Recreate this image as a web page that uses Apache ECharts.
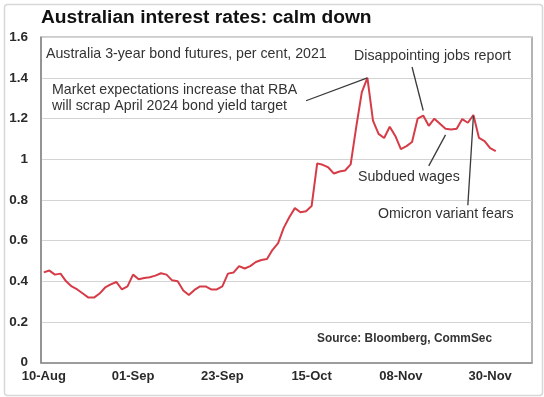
<!DOCTYPE html>
<html>
<head>
<meta charset="utf-8">
<script src="https://cdn.jsdelivr.net/npm/echarts@6/dist/echarts.min.js"></script>
<style>
  html, body { margin: 0; padding: 0; background: #fff; }
  #chart { width: 544px; height: 397px; }
</style>
</head>
<body>
<div id="chart"></div>
<script>
// business days, 10-Aug to 09-Dec 2021
const aug = ['10','11','12','13','16','17','18','19','20','23','24','25','26','27','30','31'];
const sep = ['01','02','03','06','07','08','09','10','13','14','15','16','17','20','21','22','23','24','27','28','29','30'];
const oct = ['01','04','05','06','07','08','11','12','13','14','15','18','19','20','21','22','25','26','27','28','29'];
const nov = ['01','02','03','04','05','08','09','10','11','12','15','16','17','18','19','22','23','24','25','26','29','30'];
const dec = ['01','02','03','06','07','08','09'];

const days = [].concat(
    aug.map(d => d + '-Aug'),
    sep.map(d => d + '-Sep'),
    oct.map(d => d + '-Oct'),
    nov.map(d => d + '-Nov'),
    dec.map(d => d + '-Dec')
);

// 3-year bond futures yield, per cent
const bondYield = [
    0.444, 0.453, 0.433, 0.438, 0.40, 0.375, 0.36, 0.34, 0.32, 0.32,
    0.34, 0.37, 0.385, 0.397, 0.36, 0.375, 0.433, 0.41, 0.416, 0.42,
    0.428, 0.44, 0.433, 0.405, 0.40, 0.355, 0.333, 0.358, 0.375, 0.375,
    0.36, 0.36, 0.375, 0.438, 0.443, 0.475, 0.463, 0.475, 0.495, 0.505,
    0.51, 0.555, 0.588, 0.663, 0.715, 0.76, 0.74, 0.745, 0.77, 0.98,
    0.973, 0.96, 0.93, 0.94, 0.945, 0.975, 1.16, 1.33, 1.40, 1.19,
    1.125, 1.105, 1.16, 1.115, 1.05, 1.065, 1.085, 1.20, 1.215, 1.165,
    1.20, 1.175, 1.15, 1.147, 1.15, 1.198, 1.18, 1.218, 1.105, 1.09,
    1.055, 1.04
];

// annotation leader lines: [index, value] -> [index, value]
const leaders = [
    [[47.0, 1.288], [57.6, 1.40]],
    [[65.5, 1.454], [67.7, 1.24]],
    [[71.5, 1.12], [69.2, 0.968]],
    [[76.8, 1.215], [75.8, 0.774]]
];

const font = '"Liberation Sans", Arial, sans-serif';

const chart = echarts.init(document.getElementById('chart'));

chart.setOption({
    animation: false,
    backgroundColor: '#fff',
    grid: {
        left: 41,
        right: 12,
        top: 37.3,
        bottom: 34.3,
        show: true,
        borderColor: '#9a9a9a',
        borderWidth: 1.5
    },
    xAxis: {
        type: 'category',
        data: days,
        boundaryGap: true,
        axisLine: { lineStyle: { color: '#8a8a8a', width: 1.5 } },
        axisTick: {
            inside: true,
            interval: 0,
            length: 3,
            lineStyle: { color: '#b0b0b0' }
        },
        axisLabel: {
            interval: 15,
            margin: 7,
            color: '#2a2a2a',
            fontFamily: font,
            fontWeight: 'bold',
            fontSize: 13
        },
        splitLine: { show: false }
    },
    yAxis: {
        type: 'value',
        min: 0,
        max: 1.6,
        interval: 0.2,
        axisLine: { show: true, lineStyle: { color: '#8a8a8a', width: 1.5 } },
        axisTick: { show: false },
        axisLabel: {
            margin: 13,
            color: '#2a2a2a',
            fontFamily: font,
            fontWeight: 'bold',
            fontSize: 13.5
        },
        splitLine: { lineStyle: { color: '#d4d4d4', width: 1 } }
    },
    series: [
        {
            type: 'line',
            data: bondYield,
            showSymbol: false,
            lineStyle: { color: '#d63c47', width: 2 },
            markLine: {
                silent: true,
                symbol: ['none', 'none'],
                label: { show: false },
                lineStyle: { color: '#3a3a3a', width: 1.3, type: 'solid' },
                data: leaders.map(p => [{ coord: p[0] }, { coord: p[1] }])
            }
        }
    ],
    graphic: [
        {
            type: 'rect',
            left: 2, top: 2,
            shape: { width: 538, height: 391, r: 3 },
            style: { fill: 'none', stroke: '#d8d8d8', lineWidth: 1.5 },
            silent: true
        },
        {
            type: 'text', left: 41, top: 8,
            style: { text: 'Australian interest rates: calm down', font: 'bold 19.2px ' + font, fill: '#111' }
        },
        {
            type: 'text', left: 46, top: 47,
            style: { text: 'Australia 3-year bond futures, per cent, 2021', font: '14.2px ' + font, fill: '#333' }
        },
        {
            type: 'text', left: 52, top: 82,
            style: {
                text: 'Market expectations increase that RBA\nwill scrap April 2024 bond yield target',
                font: '14.2px ' + font, fill: '#333', lineHeight: 16
            }
        },
        {
            type: 'text', left: 354, top: 49,
            style: { text: 'Disappointing jobs report', font: '14.2px ' + font, fill: '#333' }
        },
        {
            type: 'text', left: 358, top: 170,
            style: { text: 'Subdued wages', font: '14.2px ' + font, fill: '#333' }
        },
        {
            type: 'text', left: 378, top: 207,
            style: { text: 'Omicron variant fears', font: '14.2px ' + font, fill: '#333' }
        },
        {
            type: 'text', left: 317, top: 333,
            style: { text: 'Source: Bloomberg, CommSec', font: 'bold 11.9px ' + font, fill: '#333' }
        }
    ]
});
</script>
</body>
</html>
